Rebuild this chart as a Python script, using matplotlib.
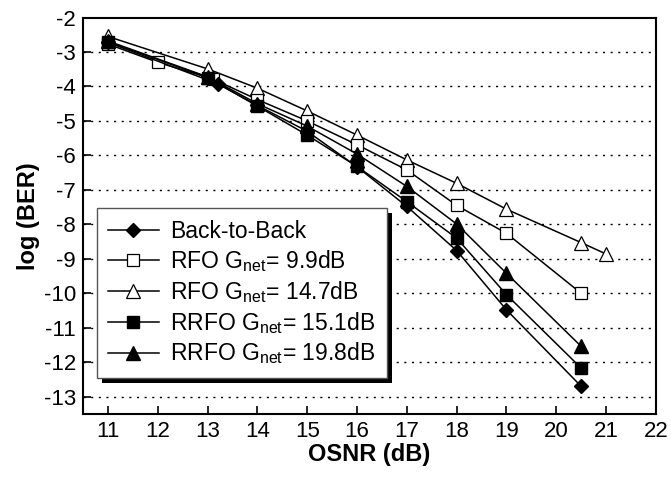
import matplotlib
matplotlib.use("Agg")
import matplotlib.pyplot as plt
from matplotlib.patches import Rectangle

plt.rcParams['font.family'] = ['Liberation Sans', 'DejaVu Sans']
plt.rcParams['mathtext.fontset'] = 'custom'
plt.rcParams['mathtext.rm'] = 'Liberation Sans'
plt.rcParams['mathtext.it'] = 'Liberation Sans'
plt.rcParams['axes.unicode_minus'] = False

# OSNR (dB) / log(BER)
b2b_x = [11, 13.2, 14, 15, 16, 17, 18, 19, 20.5]
b2b_y = [-2.72, -3.92, -4.55, -5.3, -6.33, -7.48, -8.76, -10.48, -12.70]

rfo99_x = [11, 12, 13.1, 14, 15, 16, 17, 18, 19, 20.5]
rfo99_y = [-2.77, -3.30, -3.78, -4.38, -5.0, -5.69, -6.42, -7.45, -8.26, -10.0]

rfo147_x = [11, 13, 14, 15, 16, 17, 18, 19, 20.5, 21]
rfo147_y = [-2.55, -3.49, -4.05, -4.71, -5.41, -6.13, -6.81, -7.56, -8.53, -8.86]

rrfo151_x = [11, 13, 14, 15, 16, 17, 18, 19, 20.5]
rrfo151_y = [-2.7, -3.74, -4.57, -5.41, -6.32, -7.34, -8.40, -10.04, -12.17]

rrfo198_x = [11, 13, 14, 15, 16, 17, 18, 19, 20.5]
rrfo198_y = [-2.68, -3.72, -4.5, -5.15, -5.96, -6.90, -7.99, -9.42, -11.54]

labels = ['Back-to-Back',
          r'RFO G$_{\mathrm{net}}$= 9.9dB',
          r'RFO G$_{\mathrm{net}}$= 14.7dB',
          r'RRFO G$_{\mathrm{net}}$= 15.1dB',
          r'RRFO G$_{\mathrm{net}}$= 19.8dB']

fig = plt.figure(figsize=(6.71, 4.8), dpi=100)
ax = fig.add_axes([0.1237, 0.1375, 0.8539, 0.826])

lw = 1.1
ax.plot(rfo147_x, rfo147_y, '-^', color='black', lw=lw, ms=10, mfc='white', mec='black', mew=0.9, label=labels[2], zorder=3)
ax.plot(rfo99_x, rfo99_y, '-s', color='black', lw=lw, ms=8, mfc='white', mec='black', mew=0.9, label=labels[1], zorder=3)
ax.plot(rrfo198_x, rrfo198_y, '-^', color='black', lw=lw, ms=10, label=labels[4], zorder=3)
ax.plot(rrfo151_x, rrfo151_y, '-s', color='black', lw=lw, ms=8, label=labels[3], zorder=3)
ax.plot(b2b_x, b2b_y, '-D', color='black', lw=lw, ms=7, label=labels[0], zorder=3)

ax.set_xlim(10.5, 22)
ax.set_ylim(-13.5, -2)
ax.set_xticks(range(11, 23))
ax.set_yticks(range(-13, -1))
for yv in range(-13, -2):
    ax.axhline(yv, color='black', lw=1.0, ls=(0, (1.5, 4)), zorder=1)

for s in ax.spines.values():
    s.set_linewidth(1.5)
ax.tick_params(direction='in', length=6, width=1.2, labelsize=16, pad=5)
ax.set_xlabel('OSNR (dB)', fontsize=17, fontweight='bold', labelpad=1)
ax.set_ylabel('log (BER)', fontsize=17, fontweight='bold', labelpad=3)

handles, labs = ax.get_legend_handles_labels()
order = [labs.index(l) for l in labels]
leg = ax.legend([handles[i] for i in order], [labs[i] for i in order],
                loc='lower left', bbox_to_anchor=(0.024, 0.091),
                fontsize=16.5, frameon=True, fancybox=False, framealpha=1,
                edgecolor='#555555', handlelength=2.2, handletextpad=0.5,
                labelspacing=0.22, borderpad=0.5, borderaxespad=0)
leg.get_frame().set_linewidth(1.0)
leg.set_zorder(6)

fig.canvas.draw()
bb = leg.get_window_extent()
shadow = Rectangle((bb.x0 + 5, bb.y0 - 5), bb.width, bb.height, transform=None,
                   facecolor='black', edgecolor='none', zorder=5)
ax.add_artist(shadow)

fig.savefig('out.png', dpi=100)
